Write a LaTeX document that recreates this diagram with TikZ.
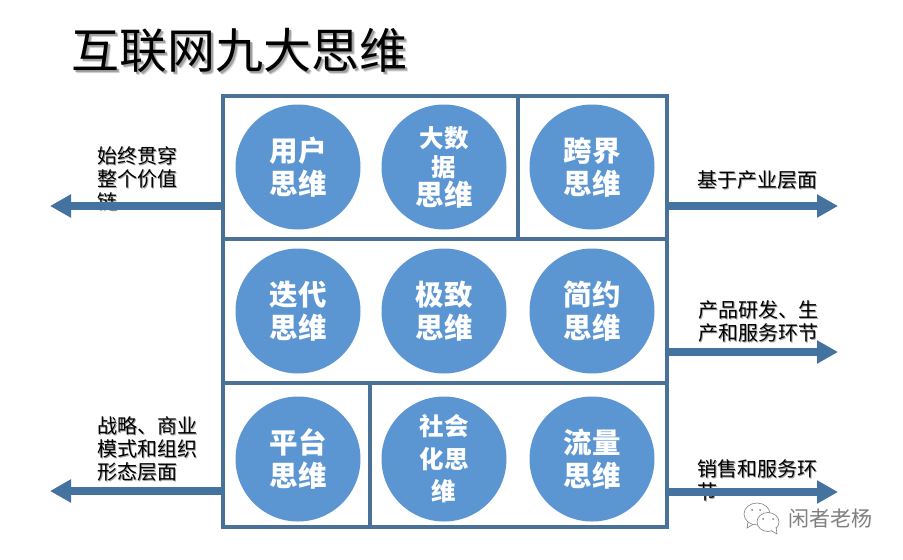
\documentclass[tikz,border=0pt]{standalone}
\usepackage{fontspec}
\setmainfont{Noto Sans CJK SC}
\usetikzlibrary{arrows.meta, positioning, shapes.geometric}
\definecolor{framex}{HTML}{4A7299}
\definecolor{arrowx}{HTML}{44739F}
\definecolor{circx}{HTML}{5B96D3}
\definecolor{shadex}{HTML}{A0A0A0}
\definecolor{shadey}{HTML}{D4D4D4}
\definecolor{markx}{HTML}{808080}
\newcommand{\shtxt}[1]{\leavevmode\rlap{\kern1.6pt\raisebox{-1.6pt}{\textcolor{shadex}{#1}}}#1}
\newcommand{\shbig}[1]{\leavevmode\rlap{\kern3.5pt\raisebox{-3.5pt}{\textcolor{shadey}{#1}}}\rlap{\kern2pt\raisebox{-2pt}{\textcolor{shadex}{#1}}}#1}

\begin{document}
\begin{tikzpicture}[
      x=1pt, y=-1pt,
      cell/.style={rectangle, draw=framex, line width=4pt, inner sep=0pt, outer sep=0pt},
      bubble/.style={circle, fill=circx, minimum size=125pt, inner sep=0pt, text=white, align=center,
                     font=\fontsize{28.5}{33}\selectfont\bfseries},
      side/.style={anchor=north west, inner sep=0pt, align=left, font=\fontsize{20}{23}\selectfont},
      arr/.style={-{Triangle[length=21pt,width=22pt]}, line width=8pt, draw=arrowx},
      chat/.style={ellipse, draw=markx, fill=white, line width=0.6pt, inner sep=0pt}
    ]
    \useasboundingbox (0,0) rectangle (903,560);
    \fill[white] (0,0) rectangle (903,560);
    \node[anchor=west, inner sep=0pt, font=\fontsize{48}{50}\selectfont] (title) at (71,52) {\shbig{互联网九大思维}};
    % frame
    \node[cell, minimum width=295pt, minimum height=143pt] (ca) at (370.5,167.5) {};
    \node[cell, minimum width=149pt, minimum height=143pt] (cb) at (592.5,167.5) {};
    \node[cell, minimum width=444pt, minimum height=144pt] (cc) at (445,311) {};
    \node[cell, minimum width=147pt, minimum height=144pt] (cd) at (296.5,455) {};
    \node[cell, minimum width=297pt, minimum height=144pt] (ce) at (518.5,455) {};
    % circles
    \node[bubble] (yh) at (298,167) {用户\\思维};
    \node[bubble, font=\fontsize{24.5}{29}\selectfont\bfseries] (dsj) at (444,167) {大数\\据\\{\fontsize{28.5}{29}\selectfont 思维}};
    \node[bubble] (kj) at (592,167) {跨界\\思维};
    \node[bubble] (dd) at (298,311) {迭代\\思维};
    \node[bubble] (jz) at (444,311) {极致\\思维};
    \node[bubble] (jy) at (592,311) {简约\\思维};
    \node[bubble] (pt) at (298,459) {平台\\思维};
    \node[bubble, font=\fontsize{24.5}{32.5}\selectfont\bfseries] (sh) at (444,459) {社会\\化思\\维};
    \node[bubble] (ll) at (592,459) {流量\\思维};
    % side labels
    \node[side] (tl) at (97,146) {\shtxt{始终贯穿}\\\shtxt{整个价值}\\\shtxt{链}};
    \node[side] (bl) at (97,416) {\shtxt{战略、商业}\\\shtxt{模式和组织}\\\shtxt{形态层面}};
    \node[side] (tr) at (697,170) {\shtxt{基于产业层面}};
    \node[side] (mr) at (698,300) {\shtxt{产品研发、生}\\\shtxt{产和服务环节}};
    \node[side] (br) at (697,459) {\shtxt{销售和服务环}\\\shtxt{节}};
    % arrows
    \coordinate (atl) at (50,206);
    \coordinate (abl) at (50,491);
    \coordinate (atr) at (838,206);
    \coordinate (amr) at (838,352);
    \coordinate (abr) at (838,492);
    \draw[arr] (ca.west |- atl) -- (atl);
    \draw[arr] (cd.west |- abl) -- (abl);
    \draw[arr] (cb.east |- atr) -- (atr);
    \draw[arr] (cc.east |- amr) -- (amr);
    \draw[arr] (ce.east |- abr) -- (abr);
    % watermark
    \node[chat, minimum width=26pt, minimum height=22pt] (wa) at (757,514) {};
    \draw[markx, line width=0.6pt] (748,522) -- (747,528) -- (753,524.5);
    \node[chat, minimum width=22pt, minimum height=19pt] (wb) at (768,522) {};
    \draw[markx, fill=white, line width=0.6pt] (771,530.5) -- (777,534) -- (776,527);
    \foreach \px/\py in {752/510, 760/510, 763/519, 773/519}
      \fill[markx] (\px,\py) circle (1pt);
    \node[anchor=west, inner sep=0pt, text=markx, font=\fontsize{21}{24}\selectfont] (wm) at (788,519) {闲者老杨};
  \end{tikzpicture}
\end{document}
